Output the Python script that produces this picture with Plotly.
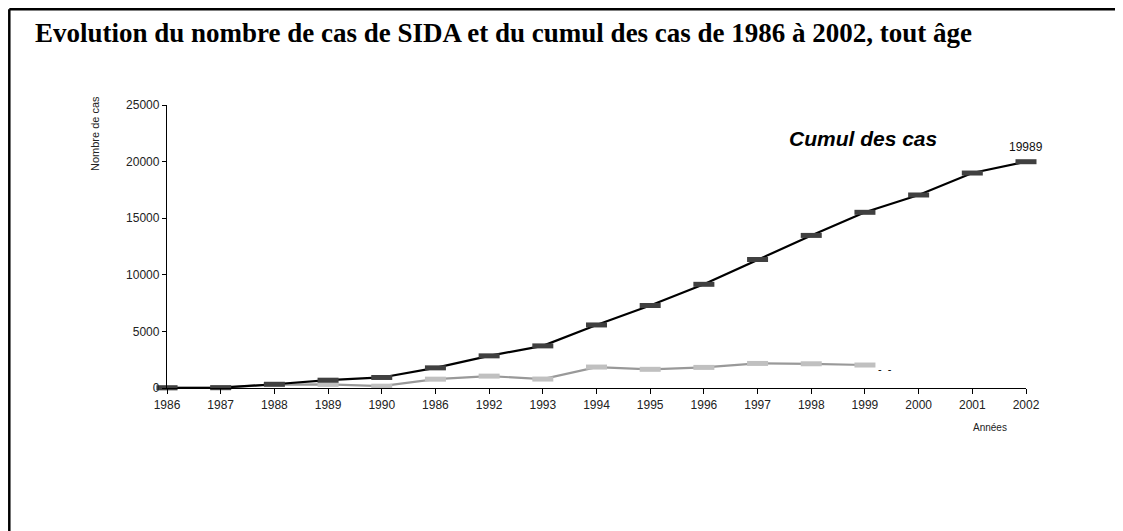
import plotly.graph_objects as go

# labels of the x axis as printed on the chart (note the second "1986")
annees = ['1986', '1987', '1988', '1989', '1990', '1986', '1992', '1993', '1994',
          '1995', '1996', '1997', '1998', '1999', '2000', '2001', '2002']

# cumulative number of cases
cumul = [20, 30, 330, 690, 930, 1780, 2840, 3720, 5570, 7290, 9160,
         11350, 13480, 15520, 17050, 18990, 19989]

# yearly number of cases (stops at 1999)
cas = [20, 30, 300, 320, 160, 780, 1050, 790, 1850, 1650, 1820, 2170, 2140, 2030]

y_ticks = [0, 5000, 10000, 15000, 20000, 25000]

pos = list(range(len(annees)))

# plot area sits at x 167..1026, y 105..388 on the page
def px(x_page):
    return (x_page - 167) / 859

def py(y_page):
    return (388 - y_page) / 283

font = 'Arial, Liberation Sans'

fig = go.Figure()

fig.add_trace(go.Scatter(
    x=pos[:len(cas)], y=cas,
    mode='lines+markers',
    line=dict(color='#999999', width=2.2),
    marker=dict(symbol='line-ew', size=15, color='#c0c0c0',
                line=dict(color='#c0c0c0', width=5)),
    cliponaxis=False, showlegend=False,
))

fig.add_trace(go.Scatter(
    x=pos, y=cumul,
    mode='lines+markers',
    line=dict(color='#000000', width=2.2),
    marker=dict(symbol='line-ew', size=15, color='#404040',
                line=dict(color='#404040', width=5)),
    cliponaxis=False, showlegend=False,
))

fig.add_annotation(x=pos[-1], y=cumul[-1], text=str(cumul[-1]), showarrow=False,
                   yshift=15, font=dict(family=font, size=12, color='#111'))
fig.add_annotation(xref='paper', yref='paper', x=px(863), y=py(138),
                   xanchor='center', yanchor='middle',
                   text='<b><i>Cumul des cas</i></b>', showarrow=False,
                   font=dict(family=font, size=21, color='#000'))
fig.add_annotation(xref='paper', yref='paper', x=px(885), y=py(369),
                   xanchor='center', yanchor='middle',
                   text='-  -', showarrow=False,
                   font=dict(family=font, size=11, color='#000'))

# axis titles placed like the original
fig.add_annotation(xref='paper', yref='paper', x=px(95), y=py(134),
                   xanchor='center', yanchor='middle',
                   text='Nombre de cas', textangle=-90, showarrow=False,
                   font=dict(family=font, size=11, color='#222'))
fig.add_annotation(xref='paper', yref='paper', x=px(990), y=py(427),
                   xanchor='center', yanchor='middle',
                   text='Années', showarrow=False,
                   font=dict(family=font, size=10, color='#222'))

# frame around the figure (top and left edges visible)
fig.add_shape(type='line', xref='paper', yref='paper',
              x0=px(9.3), x1=px(1130), y0=py(9.3), y1=py(9.3),
              line=dict(color='#000', width=2.5))
fig.add_shape(type='line', xref='paper', yref='paper',
              x0=px(9.3), x1=px(9.3), y0=py(9.3), y1=py(540),
              line=dict(color='#000', width=2.5))

fig.update_layout(
    width=1115, height=523,
    margin=dict(l=159, r=97, t=97, b=143),
    paper_bgcolor='white', plot_bgcolor='white',
    title=dict(text='<b>Evolution du nombre de cas de SIDA et du cumul des cas de 1986 à 2002, tout âge</b>',
               x=27 / 1115, xanchor='left', xref='container',
               y=1 - 25 / 523, yanchor='middle', yref='container',
               font=dict(family='Liberation Serif, Times New Roman', size=27, color='#000')),
    xaxis=dict(range=[0, 16], tickvals=pos, ticktext=annees,
               showgrid=False, zeroline=False, showline=True, linecolor='#000', linewidth=1.3,
               ticks='outside', ticklen=5, tickcolor='#000',
               tickfont=dict(family=font, size=12, color='#222')),
    yaxis=dict(range=[0, 25000], tickvals=y_ticks, ticktext=[str(v) for v in y_ticks],
               showgrid=False, zeroline=False, showline=True, linecolor='#000', linewidth=1.3,
               ticks='outside', ticklen=4, tickcolor='#000',
               tickfont=dict(family=font, size=12, color='#222')),
)

fig.write_html('out.html')
